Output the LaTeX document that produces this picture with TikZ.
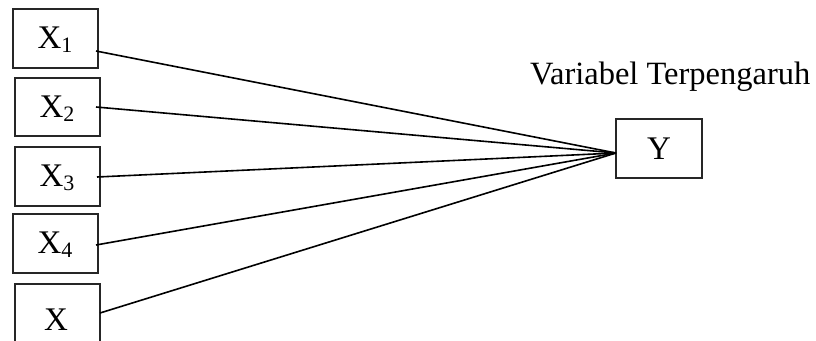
\documentclass[tikz,border=0pt]{standalone}
\usepackage{fontspec}
\setmainfont{Liberation Serif}
\newcommand{\subn}[1]{\raisebox{-4pt}{\fontsize{22}{22}\selectfont #1}}
\begin{document}
\begin{tikzpicture}[x=1pt,y=-1pt,
  varbox/.style={draw=black!85, line width=1.8pt, inner sep=0pt},
  lbl/.style={font=\fontsize{33}{33}\selectfont, inner sep=0pt},
  link/.style={draw=black, line width=1.6pt}]
\useasboundingbox (0,0) rectangle (816,340);
\clip (0,0) rectangle (816,340);
% boxes
\node[varbox, minimum width=85pt, minimum height=59pt] (bx1) at (55.5,38.5) {};
\node[varbox, minimum width=85pt, minimum height=58pt] (bx2) at (57.5,107) {};
\node[varbox, minimum width=85pt, minimum height=59pt] (bx3) at (57.5,176.5) {};
\node[varbox, minimum width=85pt, minimum height=59pt] (bx4) at (55.5,243.5) {};
\node[varbox, minimum width=85pt, minimum height=70pt] (bx5) at (57.5,319) {};
\node[varbox, minimum width=86pt, minimum height=59pt] (by) at (659,148.5) {};
% labels
\node[lbl] (t1) at (55,40) {X\subn{1}};
\node[lbl] (t2) at (57,109) {X\subn{2}};
\node[lbl] (t3) at (57,178) {X\subn{3}};
\node[lbl] (t4) at (55,245) {X\subn{4}};
\node[lbl, anchor=base] (t5) at (56,330) {X};
\node[lbl] (ty) at (659,148.5) {Y};
\node[lbl, font=\fontsize{32.5}{32.5}\selectfont, anchor=base west] (title) at (530,84) {Variabel Terpengaruh};
% connector points
\coordinate (s1) at (96,51);
\coordinate (s2) at (96,107);
\coordinate (s3) at (97,177);
\coordinate (s4) at (96,245);
\coordinate (s5) at (100,313);
\coordinate (yin) at (616,153);
\draw[link] (s1) -- (yin);
\draw[link] (s2) -- (yin);
\draw[link] (s3) -- (yin);
\draw[link] (s4) -- (yin);
\draw[link] (s5) -- (yin);
\end{tikzpicture}
\end{document}
